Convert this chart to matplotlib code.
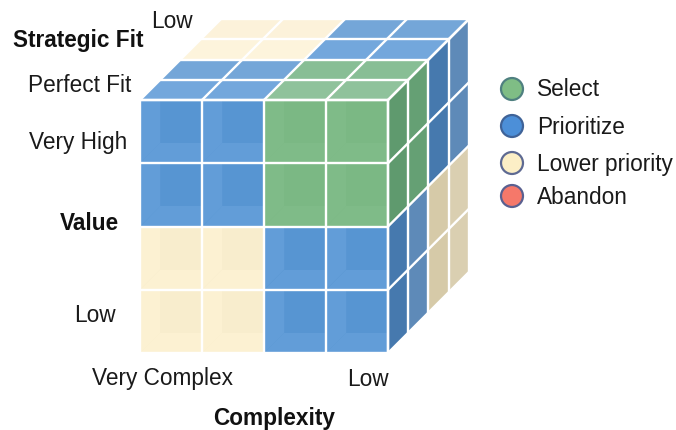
import matplotlib
matplotlib.use("Agg")
import matplotlib.pyplot as plt
from matplotlib.patches import Polygon

plt.rcParams['font.family'] = ['Liberation Sans', 'DejaVu Sans']

# decision per octant: [depth half][value row][complexity col]
near_layer = [["Prioritize", "Select"], ["Lower priority", "Prioritize"]]
far_layer = [["Lower priority", "Prioritize"], ["Prioritize", "Lower priority"]]

legend_names = ["Select", "Prioritize", "Lower priority", "Abandon"]
legend_fill = ["#7fbd85", "#4c8fd8", "#fcefc6", "#f5786a"]
legend_edge = ["#4f8080", "#3f6398", "#5e6a92", "#5a6090"]
legend_y = [89, 126, 163, 196]

front_col = {"Select": "#7cb985", "Prioritize": "#5b97d4", "Lower priority": "#fbf0d0"}
wall_col = {"Select": "#7fbb88", "Prioritize": "#629dd8", "Lower priority": "#fcf1d2"}
back_col = {"Select": "#7bb884", "Prioritize": "#5795d2", "Lower priority": "#f8edcd"}
top_col = {"Select": "#8fc29b", "Prioritize": "#73a7dc", "Lower priority": "#fdf4dc"}
top_far_col = {"Select": "#88be95", "Prioritize": "#74a6d8", "Lower priority": "#fcf2da"}
side_col = {"Select": "#5f9a6e", "Prioritize": "#4679ae", "Lower priority": "#d6caa8"}
side_far_col = {"Select": "#65a074", "Prioritize": "#5e8ab8", "Lower priority": "#dacfb1"}

labels = ["Low", "Perfect Fit", "Very High", "Low", "Very Complex", "Low"]
label_x = [172, 80, 78, 95, 163, 368]
label_y = [22, 85, 142, 315, 379, 379]
bold_labels = ["Strategic Fit", "Value", "Complexity"]
bold_x = [78, 89, 274]
bold_y = [41, 223, 418]

X0, Y0 = 140, 100
CELL_W, CELL_H = 62, 63.25
DEPTH = 20.2
N = 4
FONT = 16.3


def proj(col, row, depth):
    return (X0 + col * CELL_W + depth * DEPTH, Y0 + row * CELL_H - depth * DEPTH)


def decision(col, row, depth):
    layer = near_layer if depth < 2 else far_layer
    return layer[row // 2][col // 2]


def draw_front(ax, col, row):
    name = decision(col, row, 0)
    x0, y0 = proj(col, row, 0)
    x1, y1 = proj(col + 1, row + 1, 0)
    ins = DEPTH
    ax.add_patch(Polygon([(x0, y0), (x1, y0), (x1, y1), (x0, y1)], fc=back_col[name], ec='none'))
    ax.add_patch(Polygon([(x0, y0), (x0 + ins, y0), (x0 + ins, y1 - ins), (x0, y1)], fc=wall_col[name], ec='none'))
    ax.add_patch(Polygon([(x0, y1), (x1, y1), (x1, y1 - ins), (x0 + ins, y1 - ins)], fc=wall_col[name], ec='none'))


def draw_top(ax, col, depth):
    name = decision(col, 0, depth)
    pts = [proj(col, 0, depth), proj(col + 1, 0, depth), proj(col + 1, 0, depth + 1), proj(col, 0, depth + 1)]
    ax.add_patch(Polygon(pts, fc=top_far_col[name] if depth % 2 else top_col[name], ec='none'))


def draw_side(ax, row, depth):
    name = decision(N - 1, row, depth)
    pts = [proj(N, row, depth), proj(N, row, depth + 1), proj(N, row + 1, depth + 1), proj(N, row + 1, depth)]
    ax.add_patch(Polygon(pts, fc=side_far_col[name] if depth % 2 else side_col[name], ec='none'))


def draw_grid(ax):
    line = dict(color='white', lw=1.7, solid_capstyle='round')
    for i in range(N + 1):
        # front
        ax.plot(*zip(proj(i, 0, 0), proj(i, N, 0)), **line)
        ax.plot(*zip(proj(0, i, 0), proj(N, i, 0)), **line)
        # top
        ax.plot(*zip(proj(i, 0, 0), proj(i, 0, N)), **line)
        ax.plot(*zip(proj(0, 0, i), proj(N, 0, i)), **line)
        # side
        ax.plot(*zip(proj(N, i, 0), proj(N, i, N)), **line)
        ax.plot(*zip(proj(N, 0, i), proj(N, N, i)), **line)


def main():
    fig = plt.figure(figsize=(6.76, 4.3), dpi=100)
    ax = fig.add_axes([0, 0, 1, 1])
    ax.set_xlim(0, 676)
    ax.set_ylim(430, 0)
    ax.axis('off')

    for a in range(N):
        for b in range(N):
            draw_front(ax, a, b)
            draw_top(ax, a, b)
            draw_side(ax, a, b)
    draw_grid(ax)

    for t, x, y in zip(labels, label_x, label_y):
        ax.text(x, y, t, ha='center', va='center', fontsize=FONT, color='#1a1a1a')
    for t, x, y in zip(bold_labels, bold_x, bold_y):
        ax.text(x, y, t, ha='center', va='center', fontsize=FONT, fontweight='bold', color='#111111')

    ax.scatter([512] * 4, legend_y, s=250, c=legend_fill, edgecolors=legend_edge, linewidths=1.6)
    for t, y in zip(legend_names, legend_y):
        ax.text(537, y + 1, t, ha='left', va='center', fontsize=FONT, color='#1a1a1a')

    plt.savefig("out.png", dpi=100)


if __name__ == "__main__":
    main()
